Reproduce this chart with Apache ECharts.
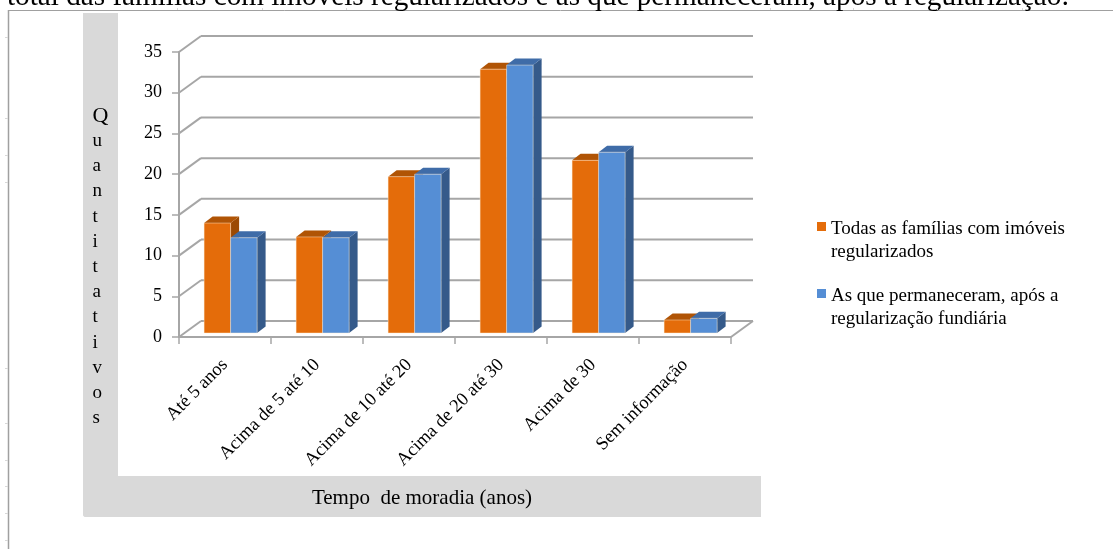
<!DOCTYPE html>
<html>
<head>
<meta charset="utf-8">
<style>html,body{margin:0;padding:0;background:#fff}#chart{width:1113px;height:549px}</style>
<script src="https://cdn.jsdelivr.net/npm/echarts@6/dist/echarts.min.js"></script>
</head>
<body>
<div id="chart"></div>
<script>
// data
var categories = ['Até 5 anos', 'Acima de 5 até 10', 'Acima de 10 até 20', 'Acima de 20 até 30', 'Acima de 30', 'Sem informação'];
var todasFamilias = [13.5, 11.8, 19.2, 32.4, 21.2, 1.6];
var permaneceram = [11.7, 11.7, 19.5, 32.9, 22.2, 1.8];
var yTicks = [0, 5, 10, 15, 20, 25, 30, 35];
var yLetters = ['Q', 'u', 'a', 'n', 't', 'i', 't', 'a', 't', 'i', 'v', 'o', 's'];

var FONT = '"Liberation Serif", serif';
var GRID = '#a6a6a6';

// wall / floor depth of the fake 3d box, in px
var DX = 22, DY = -16;
// the bars stand in the middle of the floor
var BAR_DX = 5.6, BAR_DY = -4, BAR_W = 26.5, SIDE_DX = 8.5, SIDE_DY = -6.5;

// faint ruler marks of the scanned page
var rulerLeft = [37, 118, 155, 182, 368, 423, 460, 486, 513, 540];
var rulerTop = [177, 262, 346, 770, 853, 937, 1022];

var chart = echarts.init(document.getElementById('chart'));

function line(x1, y1, x2, y2) {
    return {type: 'line', shape: {x1: x1, y1: y1, x2: x2, y2: y2}, style: {stroke: GRID, lineWidth: 2}, silent: true};
}

function poly(points, color) {
    return {type: 'polygon', shape: {points: points}, style: {fill: color}, silent: true};
}

// grid lines: short slant on the left wall, long one along the back wall
function renderWall(params, api) {
    var p = api.coord([0, api.value(0)]);
    var left = params.coordSys.x;
    var right = left + params.coordSys.width;
    var y = p[1];
    var kids = [line(left, y, left + DX, y + DY), line(left + DX, y + DY, right + DX, y + DY)];
    if (api.value(0) === 0) {
        kids.push(line(right, y, right + DX, y + DY));
    }
    return {type: 'group', children: kids};
}

function barRenderer(seriesIndex, front, top, side) {
    return function (params, api) {
        var c = api.coord([api.value(0), api.value(1)]);
        var base = api.coord([api.value(0), 0]);
        var x = c[0] + BAR_DX + (seriesIndex === 0 ? -BAR_W : 0);
        var y = c[1] + BAR_DY;
        var y0 = base[1] + BAR_DY;
        var r = x + BAR_W;
        return {type: 'group', children: [
            poly([[r, y], [r + SIDE_DX, y + SIDE_DY], [r + SIDE_DX, y0 + SIDE_DY], [r, y0]], side),
            poly([[x, y], [x + SIDE_DX, y + SIDE_DY], [r + SIDE_DX, y + SIDE_DY], [r, y]], top),
            {type: 'rect', shape: {x: x, y: y, width: BAR_W, height: y0 - y}, style: {fill: front, stroke: 'rgba(255,235,210,0.45)', lineWidth: 1}, silent: true}
        ]};
    };
}

var graphics = [
    // page edge of the scanned document
    {type: 'line', shape: {x1: 8.5, y1: 10, x2: 8.5, y2: 549}, style: {stroke: '#a0a0a0', lineWidth: 1.5}},
    {type: 'line', shape: {x1: 8, y1: 10.5, x2: 1113, y2: 10.5}, style: {stroke: '#a0a0a0', lineWidth: 1}},
    // caption cut by the top of the image
    {type: 'text', x: 7, y: -17.5, style: {text: 'total das famílias com imóveis regularizados e as que permaneceram, após a regularização:', font: '29.2px ' + FONT, fill: '#000'}},
    // grey frame around the plot
    {type: 'rect', z: -1, shape: {x: 83, y: 13, width: 35, height: 504, r: [0, 0, 0, 3]}, style: {fill: '#d9d9d9'}},
    {type: 'rect', z: -1, shape: {x: 83, y: 476, width: 678, height: 41, r: [0, 0, 0, 3]}, style: {fill: '#d9d9d9'}},
    {type: 'text', x: 422, y: 498.5, style: {text: 'Tempo  de moradia (anos)', font: '21px ' + FONT, fill: '#000', align: 'center', verticalAlign: 'middle'}}
];

yLetters.forEach(function (ch, i) {
    graphics.push({type: 'text', x: 92.5, y: 116 + i * 25.17, style: {text: ch, font: (i === 0 ? '22px ' : '19px ') + FONT, fill: '#000', align: 'left', verticalAlign: 'middle'}});
});
rulerLeft.forEach(function (y) {
    graphics.push({type: 'line', shape: {x1: 5, y1: y + 0.5, x2: 8, y2: y + 0.5}, style: {stroke: '#d8d8d8', lineWidth: 1}});
});
rulerTop.forEach(function (x) {
    graphics.push({type: 'line', shape: {x1: x + 0.5, y1: 8, x2: x + 0.5, y2: 10}, style: {stroke: '#d8d8d8', lineWidth: 1}});
});

chart.setOption({
    animation: false,
    backgroundColor: '#fff',
    graphic: graphics,
    grid: {left: 179, right: 382, top: 52, bottom: 212},
    legend: {
        orient: 'vertical', left: 812, top: 213, itemWidth: 9, itemHeight: 45, itemGap: 22,
        // box at the top of a tall icon so that it sits next to the first text line
        icon: 'path://M0 0L0 0ZM0 4H9V13H0ZM0 45L0 45Z',
        textStyle: {fontFamily: FONT, fontSize: 19, color: '#000', lineHeight: 22.5},
        data: ['Todas as famílias com imóveis\nregularizados', 'As que permaneceram, após a\nregularização fundiária']
    },
    xAxis: {
        type: 'category', data: categories,
        axisLine: {lineStyle: {color: GRID, width: 2}},
        axisTick: {show: true, length: 7, lineStyle: {color: GRID, width: 1.5}},
        axisLabel: {rotate: 45, interval: 0, fontFamily: FONT, fontSize: 18.4, color: '#000', margin: 25}
    },
    yAxis: {
        type: 'value', min: 0, max: 35, interval: 5,
        splitLine: {show: false},
        axisLine: {show: true, lineStyle: {color: GRID, width: 2}},
        axisTick: {show: true, length: 7, lineStyle: {color: GRID, width: 1.5}},
        axisLabel: {fontFamily: FONT, fontSize: 18, color: '#000', margin: 17}
    },
    series: [
        {type: 'custom', name: 'wall', silent: true, z: 1, renderItem: renderWall, data: yTicks.map(function (v) { return [v]; }), encode: {y: 0}},
        {
            type: 'custom', name: 'Todas as famílias com imóveis\nregularizados', z: 3,
            itemStyle: {color: '#E46C0A'},
            renderItem: barRenderer(0, '#E46C0A', '#B05405', '#9C4A03'),
            data: categories.map(function (c, i) { return [i, todasFamilias[i]]; }),
            encode: {x: 0, y: 1}
        },
        {
            type: 'custom', name: 'As que permaneceram, após a\nregularização fundiária', z: 3,
            itemStyle: {color: '#558ED5'},
            renderItem: barRenderer(1, '#558ED5', '#3F6CA8', '#355A8A'),
            data: categories.map(function (c, i) { return [i, permaneceram[i]]; }),
            encode: {x: 0, y: 1}
        }
    ]
});
</script>
</body>
</html>
